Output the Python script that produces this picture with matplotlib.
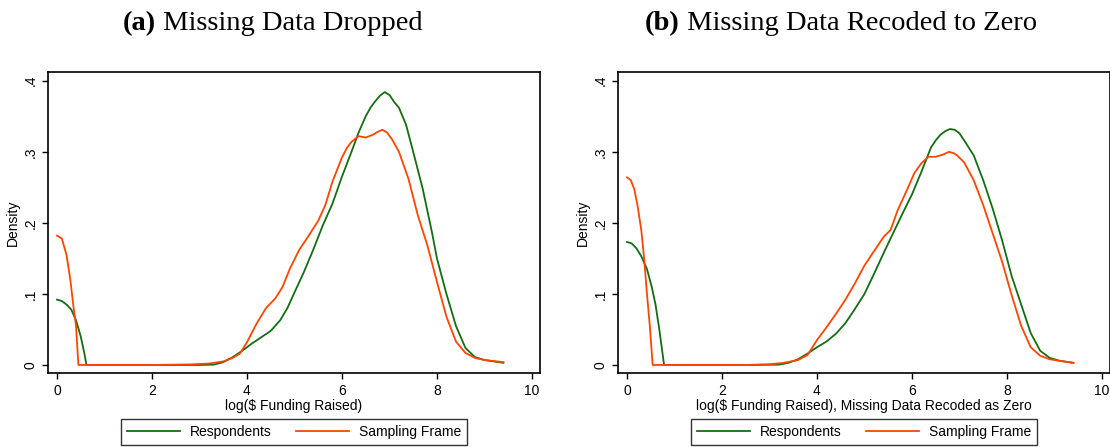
import matplotlib
matplotlib.use("Agg")
import matplotlib.pyplot as plt

# ---- data ----
a_resp_x = [0.0, 0.1, 0.2, 0.3, 0.4, 0.5, 0.58, 0.62, 1.0, 2.0, 3.0, 3.3, 3.5, 3.7, 3.9, 4.1, 4.3, 4.5, 4.7, 4.85,
            5.0, 5.2, 5.4, 5.6, 5.8, 6.0, 6.2, 6.35, 6.5, 6.6, 6.7, 6.8, 6.9, 7.0, 7.1, 7.2, 7.35, 7.5, 7.7, 7.9,
            8.0, 8.2, 8.4, 8.6, 8.8, 9.0, 9.4]
a_resp_y = [0.092, 0.090, 0.085, 0.078, 0.063, 0.040, 0.015, 0.0, 0.0, 0.0, 0.0, 0.0005, 0.004, 0.011, 0.020, 0.030,
            0.039, 0.048, 0.063, 0.080, 0.102, 0.131, 0.163, 0.197, 0.227, 0.265, 0.300, 0.327, 0.350, 0.362,
            0.371, 0.379, 0.384, 0.380, 0.370, 0.362, 0.338, 0.300, 0.248, 0.185, 0.150, 0.100, 0.055, 0.024,
            0.011, 0.007, 0.003]

a_frame_x = [0.0, 0.1, 0.2, 0.28, 0.35, 0.4, 0.45, 1.0, 2.0, 2.8, 3.2, 3.5, 3.7, 3.85, 4.0, 4.2, 4.4, 4.6, 4.75, 4.9,
             5.1, 5.3, 5.5, 5.65, 5.8, 6.0, 6.1, 6.2, 6.35, 6.5, 6.65, 6.75, 6.85, 6.95, 7.05, 7.2, 7.4, 7.6, 7.8,
             8.0, 8.2, 8.4, 8.6, 8.8, 9.0, 9.4]
a_frame_y = [0.182, 0.178, 0.155, 0.120, 0.080, 0.055, 0.0, 0.0, 0.0, 0.0008, 0.002, 0.005, 0.010, 0.016, 0.032,
             0.058, 0.080, 0.094, 0.110, 0.135, 0.162, 0.182, 0.203, 0.225, 0.258, 0.292, 0.305, 0.314, 0.322,
             0.320, 0.324, 0.328, 0.331, 0.327, 0.318, 0.300, 0.262, 0.210, 0.168, 0.117, 0.068, 0.033, 0.017,
             0.010, 0.007, 0.004]

b_resp_x = [0.0, 0.1, 0.2, 0.3, 0.42, 0.52, 0.6, 0.68, 0.74, 0.78, 1.5, 2.5, 3.2, 3.4, 3.6, 3.8, 4.0, 4.2, 4.4, 4.6,
            4.8, 5.0, 5.2, 5.4, 5.6, 5.8, 6.0, 6.2, 6.4, 6.5, 6.6, 6.7, 6.8, 6.9, 7.0, 7.1, 7.3, 7.5, 7.7, 7.9,
            8.1, 8.3, 8.5, 8.7, 8.9, 9.1, 9.4]
b_resp_y = [0.173, 0.171, 0.164, 0.153, 0.135, 0.110, 0.085, 0.050, 0.020, 0.0, 0.0, 0.0, 0.0005, 0.003, 0.008,
            0.016, 0.025, 0.033, 0.044, 0.059, 0.079, 0.100, 0.128, 0.157, 0.185, 0.213, 0.240, 0.272, 0.306,
            0.316, 0.324, 0.329, 0.332, 0.331, 0.326, 0.316, 0.295, 0.260, 0.220, 0.175, 0.125, 0.085, 0.045,
            0.020, 0.010, 0.006, 0.003]

b_frame_x = [0.0, 0.08, 0.15, 0.22, 0.3, 0.36, 0.42, 0.48, 0.54, 1.5, 2.5, 3.0, 3.3, 3.6, 3.8, 4.0, 4.2, 4.4, 4.6,
             4.8, 5.0, 5.2, 5.4, 5.55, 5.7, 5.9, 6.05, 6.2, 6.35, 6.5, 6.65, 6.78, 6.88, 6.95, 7.1, 7.3, 7.5, 7.7,
             7.9, 8.1, 8.3, 8.5, 8.7, 8.9, 9.4]
b_frame_y = [0.264, 0.260, 0.248, 0.225, 0.190, 0.150, 0.100, 0.055, 0.0, 0.0, 0.0, 0.001, 0.003, 0.007, 0.014,
             0.035, 0.053, 0.072, 0.092, 0.115, 0.140, 0.160, 0.180, 0.190, 0.218, 0.247, 0.270, 0.284, 0.293,
             0.293, 0.296, 0.300, 0.298, 0.295, 0.285, 0.260, 0.225, 0.185, 0.145, 0.098, 0.055, 0.025, 0.013,
             0.008, 0.003]

series_labels = ["Respondents", "Sampling Frame"]
panel_tags = ["(a)", "(b)"]
panel_titles = ["Missing Data Dropped", "Missing Data Recoded to Zero"]
x_labels = ["log($ Funding Raised)", "log($ Funding Raised), Missing Data Recoded as Zero"]
y_label = "Density"
x_ticks = [0, 2, 4, 6, 8, 10]
y_ticks = [0, 0.1, 0.2, 0.3, 0.4]
y_tick_labels = ["0", ".1", ".2", ".3", ".4"]

GREEN = "#136d13"
ORANGE = "#ff4500"
SANS = ["Liberation Sans", "DejaVu Sans"]
SERIF = ["Liberation Serif", "DejaVu Serif"]

plt.rcParams["font.family"] = SANS

W, H = 1110, 447
fig = plt.figure(figsize=(W / 100, H / 100), dpi=100)

ax_w = 492 / W
ax_b = (H - 373.3) / H
ax_h = (373.3 - 71.7) / H
lefts = [48 / W, 618 / W]

data = [(a_resp_x, a_resp_y, a_frame_x, a_frame_y), (b_resp_x, b_resp_y, b_frame_x, b_frame_y)]

for i in range(2):
    ax = fig.add_axes([lefts[i], ax_b, ax_w, ax_h])
    rx, ry, fx, fy = data[i]
    l1, = ax.plot(rx, ry, color=GREEN, lw=1.3, label=series_labels[0], solid_joinstyle="round")
    l2, = ax.plot(fx, fy, color=ORANGE, lw=1.3, label=series_labels[1], solid_joinstyle="round")
    ax.set_xlim(-0.19, 10.17)
    ax.set_ylim(-0.0117, 0.4127)
    ax.set_xticks(x_ticks)
    ax.set_xticklabels([str(t) for t in x_ticks], fontsize=10)
    ax.set_yticks(y_ticks)
    ax.set_yticklabels(y_tick_labels, fontsize=10, rotation=90, va="center")
    ax.tick_params(direction="out", length=4.5, width=1, color="black", pad=3)
    for s in ax.spines.values():
        s.set_linewidth(1.2)
        s.set_color("black")
    ax.set_xlabel(x_labels[i], fontsize=10, labelpad=1)
    ax.set_ylabel(y_label, fontsize=10, labelpad=3)
    leg = ax.legend(handles=[l1, l2], loc="upper center", bbox_to_anchor=(0.5, -0.128), ncol=2,
                    fontsize=10, frameon=True, fancybox=False, handlelength=3.8, handletextpad=0.7,
                    columnspacing=1.8, borderpad=0.45, edgecolor="black")
    leg.get_frame().set_linewidth(1.0)

# titles: bold tag + regular text, centred
fig.canvas.draw()
renderer = fig.canvas.get_renderer()
centers = [273, 841]
for i in range(2):
    t1 = fig.text(0, 0, panel_tags[i], fontsize=20.5, fontweight="bold", family=SERIF)
    t2 = fig.text(0, 0, " " + panel_titles[i], fontsize=20.5, family=SERIF)
    w1 = t1.get_window_extent(renderer).width
    w2 = t2.get_window_extent(renderer).width
    x0 = centers[i] - (w1 + w2) / 2
    yy = 1 - 30 / H
    t1.set_position((x0 / W, yy))
    t2.set_position(((x0 + w1) / W, yy))

fig.savefig("out.png", dpi=100)
